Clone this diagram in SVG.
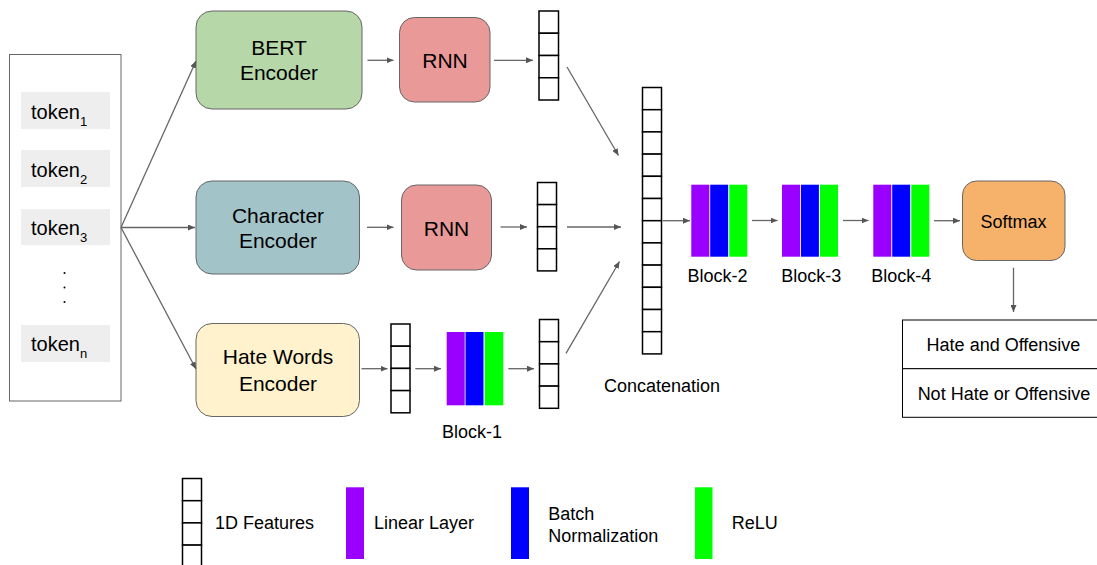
<svg xmlns="http://www.w3.org/2000/svg" width="1097" height="565" viewBox="0 0 1097 565">
<style>
text{font-family:"Liberation Sans",Arial,sans-serif;fill:#000}
.t20{font-size:20px}
.t21{font-size:21px;text-anchor:middle}
.t18{font-size:18px}
.c{text-anchor:middle}
.box{stroke:#666;stroke-width:1}
.cell{fill:#fff;stroke:#000;stroke-width:1.5}
.tok{fill:#eeeeee}
.conn line{stroke:#666;stroke-width:1.3;fill:none}
.ar{marker-end:url(#ah)}
.p{fill:#9900ff}
.b{fill:#0000ff}
.g{fill:#00ff00}
</style>
<defs>
<marker id="ah" markerUnits="userSpaceOnUse" markerWidth="8" markerHeight="6" refX="7" refY="3" orient="auto">
<path d="M0,0 L7,3 L0,6 z" fill="#555"/>
</marker>
</defs>
<rect width="1097" height="565" fill="#fff"/>

<g id="tokens">
<rect x="9.5" y="54.5" width="111.5" height="346.5" fill="#fff" stroke="#666" stroke-width="1"/>
<rect class="tok" x="21" y="92" width="89" height="37"/>
<rect class="tok" x="21" y="150" width="89" height="37"/>
<rect class="tok" x="21" y="209" width="89" height="36"/>
<rect class="tok" x="21" y="325" width="89" height="37"/>
<text class="t20" x="31" y="118.5">token<tspan font-size="13" dy="7">1</tspan></text>
<text class="t20" x="31" y="177">token<tspan font-size="13" dy="7">2</tspan></text>
<text class="t20" x="31" y="235">token<tspan font-size="13" dy="7">3</tspan></text>
<text class="t20" x="31" y="351">token<tspan font-size="13" dy="7">n</tspan></text>
<circle cx="64.5" cy="273" r="1" fill="#000"/>
<circle cx="64.5" cy="287.5" r="1" fill="#000"/>
<circle cx="64.5" cy="302" r="1" fill="#000"/>
</g>

<g id="bert">
<rect class="box" x="196" y="11" width="166" height="98" rx="16" fill="#b6d7a8"/>
<text class="t21" x="279" y="55">BERT</text>
<text class="t21" x="279" y="80">Encoder</text>
</g>
<g id="rnn1">
<rect class="box" x="399.5" y="17.5" width="90.5" height="84.5" rx="15" fill="#ea9999"/>
<text class="t21" x="445" y="68">RNN</text>
</g>
<g id="vec1">
<rect class="cell" x="539" y="11" width="19.5" height="22.25"/>
<rect class="cell" x="539" y="33.25" width="19.5" height="22.25"/>
<rect class="cell" x="539" y="55.5" width="19.5" height="22.25"/>
<rect class="cell" x="539" y="77.75" width="19.5" height="22.25"/>
</g>

<g id="char">
<rect class="box" x="196" y="181" width="163.5" height="93" rx="16" fill="#a2c4c9"/>
<text class="t21" x="278" y="223.3">Character</text>
<text class="t21" x="278" y="247.7">Encoder</text>
</g>
<g id="rnn2">
<rect class="box" x="401.5" y="185" width="90" height="85" rx="15" fill="#ea9999"/>
<text class="t21" x="446.5" y="235.5">RNN</text>
</g>
<g id="vec2">
<rect class="cell" x="537.5" y="182.5" width="19" height="22.1"/>
<rect class="cell" x="537.5" y="204.6" width="19" height="22.1"/>
<rect class="cell" x="537.5" y="226.7" width="19" height="22.1"/>
<rect class="cell" x="537.5" y="248.8" width="19" height="22.1"/>
</g>

<g id="hate">
<rect class="box" x="196" y="323.5" width="163.5" height="93" rx="16" fill="#fff2cc"/>
<text class="t21" x="278" y="364.3">Hate Words</text>
<text class="t21" x="278" y="390.7">Encoder</text>
</g>
<g id="vec3a">
<rect class="cell" x="391" y="324" width="19" height="22.2"/>
<rect class="cell" x="391" y="346.2" width="19" height="22.2"/>
<rect class="cell" x="391" y="368.4" width="19" height="22.2"/>
<rect class="cell" x="391" y="390.6" width="19" height="22.2"/>
</g>
<g id="block1">
<rect class="p" x="446.7" y="332" width="18" height="73.3"/>
<rect class="b" x="465.5" y="332" width="18" height="73.3"/>
<rect class="g" x="484.7" y="332" width="18.6" height="73.3"/>
<text class="t18 c" x="472" y="437.5">Block-1</text>
</g>
<g id="vec3b">
<rect class="cell" x="539.5" y="319.5" width="19" height="22.2"/>
<rect class="cell" x="539.5" y="341.7" width="19" height="22.2"/>
<rect class="cell" x="539.5" y="363.9" width="19" height="22.2"/>
<rect class="cell" x="539.5" y="386.1" width="19" height="22.2"/>
</g>

<g id="concat">
<rect class="cell" x="642.5" y="87.5" width="19" height="22.2"/>
<rect class="cell" x="642.5" y="109.7" width="19" height="22.2"/>
<rect class="cell" x="642.5" y="131.9" width="19" height="22.2"/>
<rect class="cell" x="642.5" y="154.1" width="19" height="22.2"/>
<rect class="cell" x="642.5" y="176.3" width="19" height="22.2"/>
<rect class="cell" x="642.5" y="198.5" width="19" height="22.2"/>
<rect class="cell" x="642.5" y="220.7" width="19" height="22.2"/>
<rect class="cell" x="642.5" y="242.9" width="19" height="22.2"/>
<rect class="cell" x="642.5" y="265.1" width="19" height="22.2"/>
<rect class="cell" x="642.5" y="287.3" width="19" height="22.2"/>
<rect class="cell" x="642.5" y="309.5" width="19" height="22.2"/>
<rect class="cell" x="642.5" y="331.7" width="19" height="22.2"/>
<text class="t18 c" x="662" y="391.5">Concatenation</text>
</g>

<g id="block2">
<rect class="p" x="691.3" y="184.7" width="18" height="72"/>
<rect class="b" x="710.2" y="184.7" width="18" height="72"/>
<rect class="g" x="729.3" y="184.7" width="18" height="72"/>
<text class="t18 c" x="717.5" y="282">Block-2</text>
</g>
<g id="block3">
<rect class="p" x="782" y="184.7" width="18" height="72"/>
<rect class="b" x="800.9" y="184.7" width="18" height="72"/>
<rect class="g" x="820" y="184.7" width="18" height="72"/>
<text class="t18 c" x="811.3" y="282">Block-3</text>
</g>
<g id="block4">
<rect class="p" x="873.3" y="184.7" width="18" height="72"/>
<rect class="b" x="892.2" y="184.7" width="18" height="72"/>
<rect class="g" x="911.3" y="184.7" width="18" height="72"/>
<text class="t18 c" x="901.3" y="282">Block-4</text>
</g>

<g id="softmax">
<rect class="box" x="962.5" y="181" width="102.5" height="79.5" rx="14" fill="#f6b26b"/>
<text class="t18 c" x="1013.5" y="228.3">Softmax</text>
</g>

<g id="output">
<rect x="902.5" y="320" width="200" height="48.7" fill="#fff" stroke="#000" stroke-width="1"/>
<rect x="902.5" y="368.7" width="200" height="48.6" fill="#fff" stroke="#000" stroke-width="1"/>
<text class="t18 c" x="1003.5" y="350.7">Hate and Offensive</text>
<text class="t18 c" x="1004" y="400">Not Hate or Offensive</text>
</g>

<g id="connectors" class="conn">
<line class="ar" x1="121" y1="227.5" x2="196" y2="61"/>
<line class="ar" x1="121" y1="227.5" x2="195" y2="227.5"/>
<line class="ar" x1="121" y1="227.5" x2="196" y2="369"/>
<line class="ar" x1="367.5" y1="60.3" x2="393.5" y2="60.3"/>
<line class="ar" x1="494" y1="60.3" x2="533" y2="60.3"/>
<line class="ar" x1="367" y1="227.3" x2="393.5" y2="227.3"/>
<line class="ar" x1="500.5" y1="227" x2="527" y2="227"/>
<line class="ar" x1="361.5" y1="368.7" x2="387.5" y2="368.7"/>
<line class="ar" x1="415.3" y1="368.7" x2="441" y2="368.7"/>
<line class="ar" x1="508.3" y1="368.7" x2="534" y2="368.7"/>
<line class="ar" x1="567" y1="67" x2="618.5" y2="155.5"/>
<line class="ar" x1="567" y1="227" x2="621" y2="227"/>
<line class="ar" x1="566" y1="353.3" x2="619.5" y2="261.5"/>
<line class="ar" x1="663" y1="220.7" x2="690" y2="220.7"/>
<line class="ar" x1="752" y1="220.5" x2="777.5" y2="220.5"/>
<line class="ar" x1="843" y1="220.5" x2="868.5" y2="220.5"/>
<line class="ar" x1="934" y1="220.7" x2="960" y2="220.7"/>
<line class="ar" x1="1013.5" y1="267.7" x2="1013.5" y2="312"/>
</g>

<g id="legend">
<rect class="cell" x="182.5" y="478.5" width="19" height="22.2"/>
<rect class="cell" x="182.5" y="500.7" width="19" height="22.2"/>
<rect class="cell" x="182.5" y="522.9" width="19" height="22.2"/>
<rect class="cell" x="182.5" y="545.1" width="19" height="22.2"/>
<text class="t18" x="215" y="529">1D Features</text>
<rect class="p" x="346" y="487.3" width="18" height="71.7"/>
<text class="t18" x="374" y="529">Linear Layer</text>
<rect class="b" x="511" y="487.3" width="18" height="71.7"/>
<text class="t18" x="548.3" y="520">Batch</text>
<text class="t18" x="548.3" y="542.3">Normalization</text>
<rect class="g" x="695" y="487.3" width="17.5" height="71.7"/>
<text class="t18" x="731.7" y="529.3">ReLU</text>
</g>
</svg>
